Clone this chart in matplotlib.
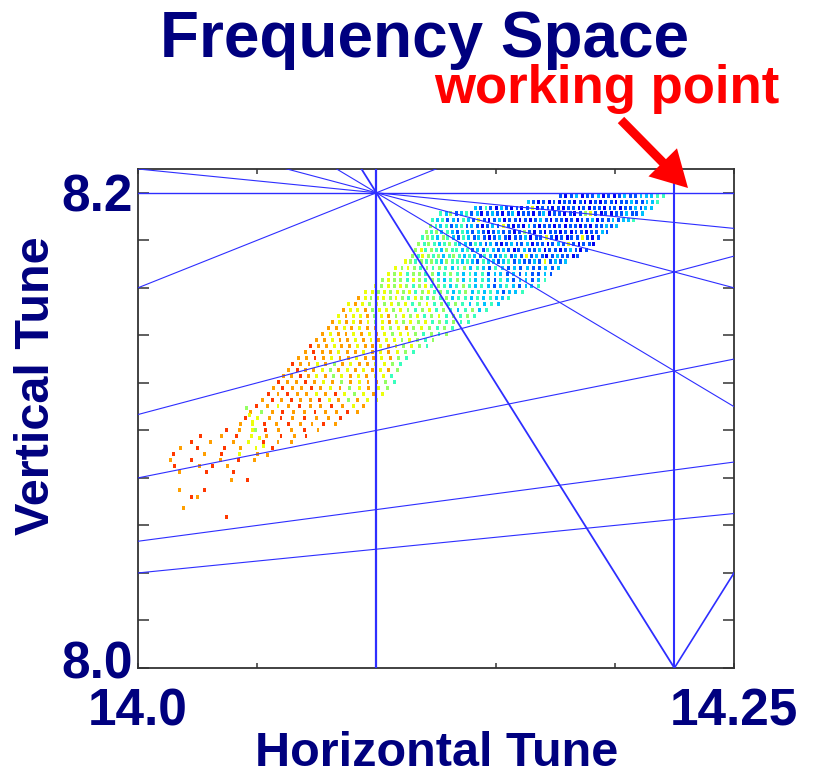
import numpy as np
import matplotlib
matplotlib.use("Agg")
import matplotlib.pyplot as plt
from matplotlib.patches import FancyArrow
from matplotlib.transforms import IdentityTransform, ScaledTranslation
from matplotlib import colors

plt.rcParams["font.family"] = ["Liberation Sans", "DejaVu Sans"]
plt.rcParams["font.weight"] = "bold"

NAVY = "#00007f"
LINE_BLUE = "#2e2eff"

NU_X_INT, NU_Y_INT = 14, 8

# resonance lines  m*nu_x + n*nu_y = p
res_m = [5, 4, 0, 1, 2, 3, 4, 4, 1, 2, 1, 1, 1]
res_n = [0, 0, 5, 4, 3, 2, 1, -1, -1, -3, -2, -3, -4]
res_p = [71, 57, 41, 47, 53, 59, 65, 49, 6, 4, -2, -10, -18]
res_lw = [1.6, 1.5, 1.0, 0.8, 0.8, 0.8, 1.3, 1.2, 0.8, 0.8, 0.8, 0.8, 0.8]

# frequency map: rows of (nu_y, [nu_x ...], [diffusion class ...]),
# fractional tunes in units of 1e-4; class 1 = regular (blue) ... 9 = chaotic (red)
core_rows = [
    (1987, [2309, 2318, 2327, 2336, 2346, 2354, 2363, 2373, 2381, 2390, 2400, 2408, 2417, 2427, 2435, 2444, 2453, 2462, 2471, 2481],
           [2, 1, 2, 3, 1, 2, 2, 3, 1, 2, 1, 2, 3, 2, 2, 3, 3, 3, 4, 4]),
    (1962, [2255, 2264, 2272, 2281, 2290, 2298, 2307, 2316, 2324, 2333, 2342, 2350, 2359, 2368, 2376, 2385, 2394, 2402, 2411, 2420, 2428, 2437, 2446, 2454, 2463, 2472],
           [3, 2, 1, 2, 1, 2, 1, 2, 2, 1, 2, 1, 1, 2, 1, 2, 2, 1, 2, 2, 3, 2, 2, 3, 3, 4]),
    (1937, [2166, 2175, 2184, 2192, 2201, 2210, 2218, 2227, 2236, 2244, 2253, 2262, 2270, 2279, 2288, 2296, 2305, 2314, 2322, 2331, 2340, 2348, 2357, 2366, 2374, 2383, 2392, 2400, 2409, 2418, 2426, 2435, 2444, 2452, 2461],
           [3, 2, 4, 2, 1, 3, 2, 1, 2, 1, 2, 6, 1, 2, 2, 1, 2, 1, 2, 2, 1, 2, 1, 2, 2, 1, 2, 2, 1, 2, 2, 3, 2, 3, 3]),
    (1912, [2108, 2117, 2125, 2134, 2143, 2151, 2160, 2169, 2177, 2186, 2195, 2203, 2212, 2221, 2229, 2238, 2247, 2255, 2264, 2273, 2281, 2290, 2299, 2307, 2316, 2325, 2333, 2342, 2351, 2359, 2368, 2377, 2385, 2394, 2403, 2411, 2420, 2429, 2437, 2446],
           [4, 3, 5, 2, 3, 4, 2, 3, 1, 2, 3, 2, 1, 2, 3, 1, 2, 2, 1, 2, 3, 1, 2, 2, 1, 2, 1, 2, 5, 6, 2, 1, 2, 1, 2, 2, 3, 2, 2, 3]),
    (1886, [2094, 2103, 2111, 2120, 2129, 2137, 2146, 2155, 2163, 2172, 2181, 2189, 2198, 2207, 2215, 2224, 2233, 2241, 2250, 2259, 2267, 2276, 2285, 2293, 2302, 2311, 2319, 2328, 2337, 2345, 2354, 2363, 2371, 2380, 2389, 2397, 2406, 2415, 2423, 2432],
           [4, 3, 4, 2, 3, 2, 4, 3, 2, 6, 2, 1, 2, 3, 1, 2, 2, 1, 2, 1, 2, 3, 2, 1, 2, 2, 1, 2, 1, 2, 2, 3, 1, 2, 2, 3, 2, 3, 3, 4]),
    (1861, [2091, 2100, 2108, 2117, 2126, 2134, 2143, 2152, 2160, 2169, 2178, 2186, 2195, 2204, 2213, 2221, 2230, 2239, 2247, 2256, 2265, 2273, 2282, 2291, 2299, 2308, 2317, 2325, 2334, 2343, 2351, 2360, 2369, 2377, 2386, 2395, 2403],
           [5, 4, 3, 4, 2, 3, 4, 2, 3, 2, 1, 2, 3, 2, 6, 2, 1, 2, 1, 3, 2, 1, 2, 2, 1, 2, 1, 2, 2, 1, 2, 1, 2, 2, 3, 2, 3]),
    (1836, [2084, 2093, 2101, 2110, 2119, 2127, 2136, 2145, 2153, 2162, 2171, 2179, 2188, 2197, 2205, 2214, 2223, 2231, 2240, 2249, 2257, 2266, 2275, 2283, 2292, 2301, 2309, 2318, 2327, 2335, 2344, 2353, 2361, 2370, 2379, 2387],
           [5, 4, 5, 3, 4, 3, 2, 4, 3, 2, 3, 2, 1, 2, 3, 2, 2, 1, 2, 5, 2, 1, 2, 1, 2, 2, 1, 2, 1, 2, 2, 1, 2, 2, 3, 2]),
    (1811, [2077, 2086, 2094, 2103, 2112, 2120, 2129, 2138, 2146, 2155, 2164, 2172, 2181, 2190, 2198, 2207, 2216, 2224, 2233, 2242, 2250, 2259, 2268, 2276, 2285, 2294, 2302, 2311, 2320, 2328, 2337, 2346, 2354, 2363, 2372],
           [4, 5, 4, 3, 5, 4, 3, 2, 4, 3, 2, 3, 2, 1, 2, 3, 2, 1, 2, 2, 3, 1, 2, 2, 6, 2, 1, 2, 1, 2, 2, 6, 2, 1, 2]),
    (1785, [2071, 2080, 2088, 2097, 2106, 2114, 2123, 2132, 2140, 2149, 2158, 2166, 2175, 2184, 2192, 2201, 2210, 2218, 2227, 2236, 2244, 2253, 2262, 2270, 2279, 2288, 2296, 2305, 2314, 2322, 2331, 2340, 2348, 2357, 2365],
           [5, 4, 5, 4, 3, 4, 5, 4, 3, 3, 2, 4, 3, 2, 3, 2, 1, 2, 3, 2, 2, 3, 1, 2, 2, 1, 2, 3, 2, 6, 2, 1, 2, 2, 1]),
    (1760, [2066, 2075, 2083, 2092, 2101, 2109, 2118, 2127, 2135, 2144, 2153, 2161, 2170, 2179, 2187, 2196, 2205, 2213, 2222, 2231, 2239, 2248, 2257, 2265, 2274, 2283, 2291, 2300, 2309, 2317, 2326, 2335, 2343, 2352],
           [5, 6, 4, 5, 4, 3, 5, 4, 4, 3, 4, 2, 3, 2, 4, 3, 2, 3, 2, 1, 2, 3, 2, 2, 3, 1, 2, 2, 1, 2, 3, 2, 1, 2]),
    (1735, [2061, 2070, 2078, 2087, 2096, 2104, 2113, 2122, 2130, 2139, 2148, 2156, 2165, 2174, 2182, 2191, 2200, 2208, 2217, 2226, 2234, 2243, 2252, 2260, 2269, 2278, 2286, 2295, 2304, 2312, 2321, 2330, 2338],
           [5, 4, 6, 5, 4, 5, 3, 4, 5, 4, 3, 4, 3, 2, 4, 3, 2, 3, 4, 2, 3, 2, 6, 2, 3, 2, 1, 2, 3, 2, 2, 1, 2]),
    (1710, [2049, 2058, 2066, 2075, 2084, 2092, 2101, 2110, 2118, 2127, 2136, 2144, 2153, 2162, 2170, 2179, 2188, 2196, 2205, 2214, 2222, 2231, 2240, 2248, 2257, 2266, 2274, 2283, 2292, 2300, 2309, 2318],
           [6, 5, 4, 5, 4, 5, 4, 3, 5, 4, 4, 3, 4, 3, 2, 4, 3, 3, 2, 3, 4, 2, 3, 2, 2, 3, 2, 6, 2, 3, 2, 3]),
]

middle_rows = [
    (1684, [2032, 2043, 2053, 2064, 2074, 2085, 2095, 2106, 2116, 2127, 2137, 2148, 2158, 2169, 2179, 2190, 2200, 2211, 2221, 2232, 2242, 2253, 2263, 2274, 2284, 2295, 2305],
           [6, 5, 6, 5, 4, 5, 4, 5, 4, 3, 4, 5, 3, 4, 3, 2, 4, 3, 2, 3, 2, 3, 2, 2, 3, 2, 3]),
    (1659, [2020, 2031, 2041, 2052, 2062, 2073, 2083, 2094, 2104, 2115, 2125, 2136, 2146, 2157, 2167, 2178, 2188, 2199, 2209, 2220, 2230, 2241, 2251, 2262, 2272, 2283, 2293],
           [6, 5, 6, 4, 5, 5, 4, 5, 3, 4, 5, 4, 3, 4, 3, 4, 2, 3, 3, 2, 3, 2, 3, 2, 2, 3, 2]),
    (1634, [2010, 2020, 2031, 2041, 2052, 2062, 2073, 2083, 2094, 2104, 2115, 2125, 2136, 2146, 2157, 2167, 2178, 2188, 2199, 2209, 2220, 2230, 2241, 2251, 2262, 2272, 2283],
           [5, 6, 5, 5, 4, 6, 5, 4, 5, 4, 3, 4, 5, 3, 4, 3, 4, 3, 2, 4, 3, 2, 3, 3, 2, 3, 4]),
    (1608, [1999, 2009, 2020, 2030, 2041, 2051, 2062, 2072, 2083, 2093, 2104, 2114, 2125, 2135, 2146, 2156, 2167, 2177, 2188, 2198, 2209, 2219, 2230, 2240, 2251, 2261, 2272],
           [6, 5, 6, 5, 6, 5, 4, 5, 6, 4, 5, 4, 3, 4, 5, 4, 3, 4, 3, 2, 3, 4, 3, 2, 3, 3, 4]),
    (1583, [1982, 1993, 2003, 2014, 2024, 2035, 2045, 2056, 2066, 2077, 2087, 2098, 2108, 2119, 2129, 2140, 2150, 2161, 2171, 2182, 2192, 2203, 2213, 2224, 2234, 2245],
           [6, 6, 5, 6, 5, 6, 5, 6, 4, 5, 6, 4, 5, 4, 3, 4, 5, 3, 4, 3, 4, 3, 2, 3, 3, 4]),
    (1558, [1970, 1981, 1991, 2002, 2012, 2023, 2033, 2044, 2054, 2065, 2075, 2086, 2096, 2107, 2117, 2128, 2138, 2149, 2159, 2170, 2180, 2191, 2201, 2212, 2222],
           [7, 6, 5, 6, 6, 5, 6, 5, 4, 6, 5, 4, 5, 4, 5, 3, 4, 4, 3, 4, 3, 4, 3, 3, 4]),
    (1533, [1953, 1965, 1977, 1989, 2001, 2013, 2025, 2037, 2049, 2061, 2073, 2085, 2097, 2109, 2121, 2133, 2145, 2157, 2169, 2181, 2193, 2205],
           [6, 7, 6, 5, 6, 5, 6, 5, 6, 4, 5, 6, 4, 5, 4, 5, 4, 3, 4, 3, 4, 3]),
    (1507, [1945, 1957, 1969, 1981, 1993, 2005, 2017, 2029, 2041, 2053, 2065, 2077, 2089, 2101, 2113, 2125, 2137, 2149, 2161, 2173, 2185],
           [7, 6, 6, 7, 5, 6, 6, 5, 6, 5, 4, 5, 6, 4, 5, 4, 3, 4, 5, 3, 4]),
    (1482, [1937, 1949, 1961, 1973, 1985, 1997, 2009, 2021, 2033, 2045, 2057, 2069, 2081, 2093, 2105, 2117, 2129, 2141, 2153, 2165],
           [6, 7, 6, 6, 7, 5, 6, 7, 5, 6, 5, 6, 4, 5, 6, 4, 5, 4, 5, 4]),
    (1457, [1926, 1938, 1950, 1962, 1974, 1986, 1998, 2010, 2022, 2034, 2046, 2058, 2070, 2082, 2094, 2106, 2118, 2130, 2142, 2154],
           [7, 6, 7, 6, 7, 6, 5, 6, 7, 6, 5, 6, 5, 6, 4, 5, 4, 5, 4, 4]),
    (1432, [1920, 1933, 1946, 1959, 1972, 1985, 1998, 2011, 2024, 2037, 2050, 2063, 2076, 2089, 2102, 2115, 2128],
           [7, 7, 6, 7, 6, 7, 7, 6, 5, 6, 7, 5, 6, 5, 4, 5, 4]),
    (1406, [1910, 1923, 1936, 1949, 1962, 1975, 1988, 2001, 2014, 2027, 2040, 2053, 2066, 2079, 2092, 2105, 2118],
           [7, 6, 7, 7, 6, 7, 6, 7, 6, 5, 6, 6, 5, 4, 5, 4, 5]),
    (1381, [1900, 1913, 1926, 1939, 1952, 1965, 1978, 1991, 2004, 2017, 2030, 2043, 2056, 2069, 2082, 2095],
           [7, 7, 6, 7, 7, 6, 7, 6, 7, 6, 6, 5, 6, 5, 4, 5]),
    (1356, [1890, 1903, 1916, 1929, 1942, 1955, 1968, 1981, 1994, 2007, 2020, 2033, 2046, 2059, 2072, 2085],
           [8, 7, 7, 6, 7, 7, 6, 7, 7, 6, 7, 6, 5, 6, 5, 4]),
]

outer_rows = [
    (1331, [1881, 1895, 1909, 1923, 1937, 1951, 1965, 1979, 1993, 2007, 2021, 2035, 2049, 2063],
           [7, 8, 7, 7, 6, 7, 7, 6, 7, 6, 7, 6, 5, 4]),
    (1305, [1869, 1883, 1897, 1911, 1925, 1939, 1953, 1967, 1981, 1995, 2009, 2023, 2037, 2051],
           [7, 7, 8, 7, 6, 7, 7, 6, 7, 7, 6, 7, 5, 4]),
    (1280, [1859, 1873, 1887, 1901, 1915, 1929, 1943, 1957, 1971, 1985, 1999, 2013, 2027, 2041],
           [8, 7, 7, 6, 7, 5, 7, 6, 7, 7, 6, 6, 5, 4]),
    (1255, [1853, 1867, 1881, 1895, 1909, 1923, 1937, 1951, 1965, 1979, 1993, 2007, 2021, 2035],
           [7, 8, 7, 7, 6, 5, 7, 6, 7, 6, 7, 6, 7, 5]),
    (1230, [1844, 1858, 1872, 1886, 1900, 1914, 1928, 1942, 1956, 1970, 1984, 1998, 2012, 2026],
           [7, 7, 8, 7, 6, 7, 5, 6, 7, 6, 7, 6, 6, 4]),
    (1204, [1836, 1851, 1866, 1881, 1896, 1911, 1926, 1941, 1956, 1971, 1986, 2001, 2016, 2030],
           [8, 7, 7, 8, 7, 6, 7, 5, 7, 6, 7, 7, 5, 4]),
    (1179, [1827, 1843, 1859, 1875, 1891, 1907, 1923, 1939, 1955, 1971, 1987, 2003, 2019],
           [7, 8, 7, 7, 8, 7, 6, 7, 5, 6, 7, 6, 5]),
    (1154, [1819, 1835, 1851, 1867, 1883, 1899, 1915, 1931, 1947, 1963, 1979, 1995, 2010],
           [8, 7, 8, 7, 7, 6, 7, 8, 6, 5, 6, 7, 6]),
    (1129, [1809, 1825, 1841, 1857, 1873, 1889, 1905, 1921, 1937, 1953, 1969, 1985, 2000],
           [7, 8, 7, 8, 7, 7, 8, 6, 7, 5, 7, 6, 6]),
    (1103, [1799, 1817, 1835, 1853, 1871, 1889, 1907, 1925, 1943, 1961, 1979],
           [8, 7, 6, 7, 8, 7, 7, 8, 7, 6, 7]),
    (1078, [1789, 1807, 1825, 1843, 1861, 1879, 1897, 1915, 1933, 1951, 1969],
           [7, 5, 7, 8, 7, 7, 8, 7, 7, 8, 7]),
    (1053, [1780, 1800, 1820, 1840, 1860, 1880, 1900, 1920, 1940],
           [8, 6, 7, 8, 7, 8, 7, 7, 8]),
    (1028, [1772, 1792, 1812, 1832, 1852, 1872, 1892, 1912, 1932],
           [7, 6, 8, 7, 8, 7, 7, 8, 7]),
    (1002, [1748, 1770, 1792, 1814, 1836, 1858, 1880, 1902],
           [8, 7, 6, 8, 7, 7, 8, 7]),
    (977, [1705, 1740, 1765, 1790, 1815, 1840, 1862, 1882],
          [8, 7, 8, 6, 7, 8, 7, 8]),
    (952, [1690, 1722, 1760, 1785, 1810, 1835, 1858],
          [8, 7, 7, 6, 8, 7, 7]),
    (926, [1672, 1700, 1745, 1772, 1798, 1825],
          [7, 8, 8, 7, 6, 8]),
    (901, [1660, 1712, 1740, 1770, 1800],
          [8, 7, 8, 6, 7]),
    (876, [1655, 1690, 1738, 1768, 1795],
          [7, 8, 7, 8, 7]),
    (851, [1662, 1703, 1725, 1750],
          [8, 7, 8, 7]),
    (825, [1670, 1715, 1760],
          [7, 8, 8]),
]

# isolated particles (fractional tunes, 1e-4 units) and their class
loose_qx = [1669, 1690, 1700, 1712, 1676, 1749, 1757, 1784, 1782, 1787, 1792, 1797, 1804, 1811, 1817]
loose_qy = [749, 720, 720, 749, 673, 636, 791, 791, 1095, 1065, 1036, 1002, 968, 935, 897]
loose_rate = [7, 8, 7, 8, 7, 8, 7, 8, 5, 6, 6, 5, 6, 6, 7]

# ---------------------------------------------------------------------------
qx, qy, rate = [], [], []
for group in (core_rows, middle_rows, outer_rows):
    for y, xs, rs in group:
        for x, r in zip(xs, rs):
            qx.append(NU_X_INT + x * 1e-4)
            qy.append(NU_Y_INT + y * 1e-4)
            rate.append(r)
for x, y, r in zip(loose_qx, loose_qy, loose_rate):
    qx.append(NU_X_INT + x * 1e-4)
    qy.append(NU_Y_INT + y * 1e-4)
    rate.append(r)

fig = plt.figure(figsize=(8.14, 7.77), dpi=100)
ax = fig.add_axes([0.1695, 0.1403, 0.7322, 0.6422])

x_lim = (14.16, 14.26)
y_lim = (8.0, 8.21)
ax.set_xlim(*x_lim)
ax.set_ylim(*y_lim)

tall_rect = [(-0.33, -0.5), (0.33, -0.5), (0.33, 0.5), (-0.33, 0.5)]
ax.scatter(qx, qy, c=rate, cmap="jet", norm=colors.Normalize(0.065, 9.41),
           marker=tall_rect, s=10, linewidths=0, zorder=2)

xs = np.array(x_lim)
for m, n, p, lw in zip(res_m, res_n, res_p, res_lw):
    if n == 0:
        ax.axvline(p / m, color=LINE_BLUE, lw=lw, zorder=3)
    else:
        ax.plot(xs, (p - m * xs) / n, color=LINE_BLUE, lw=lw, zorder=3)

x_ticks = [14.16, 14.18, 14.20, 14.22, 14.24, 14.26]
x_tick_labels = ["14.0", "", "", "", "", "14.25"]
y_ticks = [8.00, 8.02, 8.04, 8.06, 8.08, 8.10, 8.12, 8.14, 8.16, 8.18, 8.20]
y_tick_labels = ["8.0", "", "", "", "", "", "", "", "", "", "8.2"]
ax.set_xticks(x_ticks)
ax.set_xticklabels(x_tick_labels)
ax.set_yticks(y_ticks)
ax.set_yticklabels(y_tick_labels)

ax.tick_params(axis="x", direction="in", length=3.6, width=1.1, top=True,
               pad=14, labelsize=37, labelcolor=NAVY, color="#333333")
ax.tick_params(axis="y", direction="in", length=8, width=1.1, right=True,
               pad=4, labelsize=37, labelcolor=NAVY, color="#333333")
for lab in ax.get_xticklabels() + ax.get_yticklabels():
    lab.set_fontweight("bold")
for sp in ax.spines.values():
    sp.set_color("#333333")
    sp.set_linewidth(1.3)

# lift the lowest y label a little so it clears the x label below it
low_lab = ax.get_yticklabels()[0]
low_lab.set_transform(low_lab.get_transform()
                      + ScaledTranslation(0, 0.08, fig.dpi_scale_trans))

fig.text(425 / 814, 1 - 57 / 777, "Frequency Space", ha="center", va="baseline",
         fontsize=46, fontweight="bold", color=NAVY)
fig.text(607 / 814, 1 - 103 / 777, "working point", ha="center", va="baseline",
         fontsize=38, fontweight="bold", color="#ff0000")
fig.text(437 / 814, 1 - 766 / 777, "Horizontal Tune", ha="center", va="baseline",
         fontsize=35, fontweight="bold", color=NAVY)
fig.text(37 / 814, 1 - 386 / 777, "Vertical Tune", ha="center", va="center",
         rotation=90, fontsize=35, fontweight="bold", color=NAVY)

arrow = FancyArrow(621, 777 - 120, 67, -68, width=9, head_width=40, head_length=36,
                   length_includes_head=True, color="#ff0000", lw=0,
                   transform=IdentityTransform())
fig.add_artist(arrow)

fig.savefig("out.png", dpi=100)
